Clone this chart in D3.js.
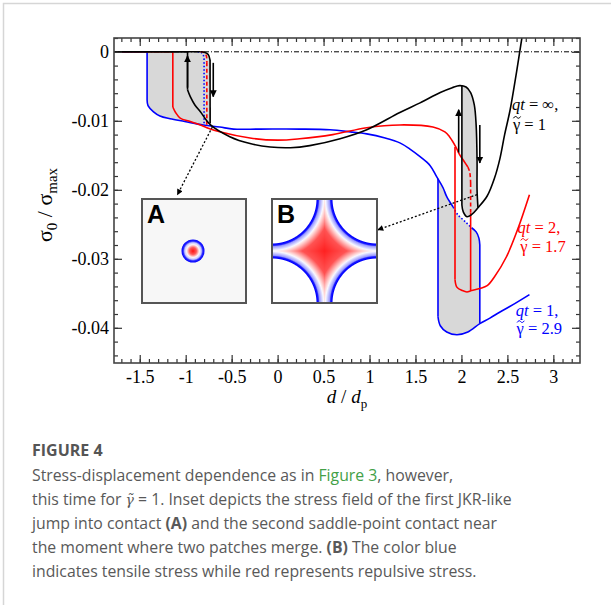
<!DOCTYPE html>
<html>
<head>
<meta charset="utf-8">
<script src="https://cdn.jsdelivr.net/npm/d3@7"></script>
<style>
  body { margin: 0; background: #fff; }
  svg { display: block; }
</style>
</head>
<body>
<svg id="fig" width="611" height="605"></svg>
<script>
// tick values + labels
var xTicks = [-1.5, -1, -0.5, 0, 0.5, 1, 1.5, 2, 2.5, 3]
var xTickLabels = ["-1.5", "-1", "-0.5", "0", "0.5", "1", "1.5", "2", "2.5", "3"]
var yTicks = [0, -0.01, -0.02, -0.03, -0.04]
var yTickLabels = ["0", "-0.01", "-0.02", "-0.03", "-0.04"]

// qt = inf, gamma = 1 (black)
var blackApproach = [[-1.78,0],[-0.98,0],[-0.98,-0.0055],[-0.95,-0.0065],[-0.90,-0.0077],[-0.84,-0.0087],[-0.73,-0.0106],[-0.52,-0.0123],[-0.30,-0.0133],[-0.08,-0.0138],[0.14,-0.0139],[0.35,-0.0136],[0.68,-0.0126],[0.97,-0.0113],[1.33,-0.0088],[1.55,-0.0074],[1.77,-0.0059],[1.90,-0.0052],[1.98,-0.0049],[2.05,-0.0051],[2.10,-0.0059],[2.14,-0.0077],[2.16,-0.0106],[2.17,-0.0157],[2.17,-0.0200],[2.18,-0.0226]]
var blackRetract = [[-1.78,0],[-0.84,0],[-0.79,-0.0001],[-0.755,-0.0004],[-0.735,-0.0012],[-0.734,-0.0104]]
var blackRise = [[2.005,-0.0222],[2.02,-0.0232],[2.06,-0.0239],[2.11,-0.0236],[2.18,-0.0226],[2.28,-0.0209],[2.36,-0.0183],[2.42,-0.0154],[2.47,-0.0120],[2.53,-0.0084],[2.60,-0.0029],[2.66,0.0022]]
var blackJump = [[2.005,-0.0049],[2.005,-0.0222]]

// qt = 2, gamma = 1.7 (red)
var redApproach = [[-1.78,0],[-1.14,0],[-1.14,-0.0080],[-1.11,-0.0088],[-1.06,-0.0096],[-0.95,-0.0101],[-0.84,-0.0106],[-0.77,-0.0110],[-0.63,-0.0116],[-0.30,-0.0125],[0,-0.0128],[0.24,-0.0126],[0.60,-0.0120],[0.97,-0.0110],[1.33,-0.0106],[1.69,-0.0109],[1.82,-0.0116],[1.87,-0.0123],[1.94,-0.0138],[1.98,-0.0149],[2.03,-0.0159],[2.07,-0.0167]]
var redDash = [[2.07,-0.0167],[2.09,-0.0174],[2.10,-0.0190],[2.10,-0.0233]]
var redDrop = [[2.10,-0.0233],[2.10,-0.0346]]
var redRise = [[1.93,-0.0138],[1.93,-0.0330],[1.95,-0.0341],[2.01,-0.0346],[2.06,-0.0348],[2.11,-0.0346],[2.20,-0.0343],[2.28,-0.0339],[2.36,-0.0326],[2.49,-0.0297],[2.61,-0.0258],[2.74,-0.0207]]
var redRetract = [[-0.84,0],[-0.80,-0.0001],[-0.775,-0.0006],[-0.77,-0.0015],[-0.77,-0.0110]]

// qt = 1, gamma = 2.9 (blue)
var blueApproach = [[-1.78,0],[-1.42,0],[-1.42,-0.0070],[-1.41,-0.0078],[-1.35,-0.0087],[-1.28,-0.0093],[-1.17,-0.0097],[-1.01,-0.0101],[-0.81,-0.0106],[-0.63,-0.0109],[-0.48,-0.0112],[-0.19,-0.0112],[0.24,-0.0112],[0.57,-0.0113],[0.79,-0.0116],[0.97,-0.0119],[1.17,-0.0125],[1.33,-0.0132],[1.44,-0.0141],[1.55,-0.0152],[1.66,-0.0165],[1.73,-0.0181],[1.80,-0.0197],[1.84,-0.0210],[1.91,-0.0225]]
var blueDot = [[1.91,-0.0225],[1.96,-0.0236],[2.04,-0.0246],[2.11,-0.0255]]
var blueDrop = [[2.11,-0.0255],[2.16,-0.0261],[2.19,-0.0270],[2.20,-0.0280],[2.20,-0.0393]]
var blueRise = [[1.745,-0.0184],[1.745,-0.0384],[1.77,-0.0397],[1.84,-0.0406],[1.95,-0.0410],[2.07,-0.0406],[2.20,-0.0394],[2.31,-0.0386],[2.42,-0.0377],[2.58,-0.0365],[2.74,-0.0352]]
var blueRetract = [[-0.87,0],[-0.83,-0.0001],[-0.805,-0.0006],[-0.80,-0.0015],[-0.80,-0.0106]]

// annotations
var pointerA = [[-0.71,-0.0109],[-1.09,-0.0207]]
var pointerB = [[2.17,-0.0207],[1.09,-0.0258]]
var jumpArrows = [[-0.98,-0.0052,-0.0006],[-0.70,-0.0016,-0.0065],[1.97,-0.0146,-0.0084],[2.20,-0.0106,-0.0161]]

var svg = d3.select('#fig')

var x = d3.scaleLinear().domain([-1.78, 3.29]).range([114, 580])
var y = d3.scaleLinear().domain([0.002, -0.0451]).range([38, 363])

var line = d3.line().x(d => x(d[0])).y(d => y(d[1])).curve(d3.curveCatmullRom.alpha(0.5))
var poly = d3.line().x(d => x(d[0])).y(d => y(d[1]))

// card border
svg.append('rect').attr('x', 3.5).attr('y', 3.5).attr('width', 640).attr('height', 640)
  .attr('fill', 'none').attr('stroke', '#d6d6d6').attr('stroke-width', 1.5)

var defs = svg.append('defs')
defs.append('clipPath').attr('id', 'plotclip').append('rect')
  .attr('x', 114).attr('y', 38).attr('width', 466).attr('height', 325)
defs.append('marker').attr('id', 'headBig').attr('viewBox', '0 0 10 10')
  .attr('refX', 9).attr('refY', 5).attr('markerWidth', 7).attr('markerHeight', 9)
  .attr('markerUnits', 'userSpaceOnUse').attr('orient', 'auto')
  .append('path').attr('d', 'M0,0 L10,5 L0,10 Z').attr('fill', '#000')
defs.append('marker').attr('id', 'headSmall').attr('viewBox', '0 0 10 10')
  .attr('refX', 9).attr('refY', 5).attr('markerWidth', 7).attr('markerHeight', 6)
  .attr('markerUnits', 'userSpaceOnUse').attr('orient', 'auto')
  .append('path').attr('d', 'M0,0 L10,5 L0,10 Z').attr('fill', '#000')
var grad = defs.append('radialGradient').attr('id', 'spotA')
;[[0, '#ff1010'], [0.3, '#ff5a5a'], [0.55, '#fff4f4'], [0.72, '#c8c8ff'], [0.85, '#2828ff'], [1, '#0000ff']]
  .forEach(s => grad.append('stop').attr('offset', s[0]).attr('stop-color', s[1]))

var plot = svg.append('g').attr('clip-path', 'url(#plotclip)')

// grey hysteresis areas
var leftFill = blueApproach.slice(1, 9).concat(blackRetract.slice(1).reverse())
var blueFill = [[1.745,-0.0184]].concat(blueApproach.filter(d => d[0] > 1.745), blueDot.slice(1), blueDrop.slice(1), blueRise.filter(d => d[0] <= 2.2).reverse())
var loopFill = [blackJump[0]].concat(blackApproach.filter(d => d[0] >= 2.05), blackRise.filter(d => d[0] <= 2.18).reverse())
;[leftFill, blueFill, loopFill].forEach(p => {
  plot.append('path').attr('d', poly(p) + 'Z').attr('fill', '#d8d8d8').attr('stroke', 'none')
})

// zero reference line
plot.append('line').attr('x1', 114).attr('x2', 580).attr('y1', y(0)).attr('y2', y(0))
  .attr('stroke', '#000').attr('stroke-width', 1).attr('stroke-dasharray', '5,2,1,2')

// smooth pieces between sharp corners (jumps)
function curve(data, color, dash, breaks) {
  var cuts = [0].concat(breaks || [], [data.length - 1])
  for (var k = 0; k < cuts.length - 1; k++) {
    var piece = data.slice(cuts[k], cuts[k + 1] + 1)
    plot.append('path').attr('d', line(piece)).attr('fill', 'none')
      .attr('stroke', color).attr('stroke-width', 1.6)
      .attr('stroke-dasharray', dash || null)
  }
}

curve(blueApproach, '#0000ff', null, [1, 2])
curve(blueDot, '#0000ff', '1.5,2')
curve(blueDrop, '#0000ff', null, [3])
curve(blueRise, '#0000ff', null, [1])
curve(blueRetract, '#0000ff', '1.5,2', [3])

curve(redApproach, '#ff0000', null, [1, 2])
curve(redDash, '#ff0000', '4,2.5', [2])
curve(redDrop, '#ff0000')
curve(redRise, '#ff0000', null, [1])
curve(redRetract, '#ff0000', '4,2.5', [3])

curve(blackApproach, '#000', null, [1, 2])
curve(blackRetract, '#000', null, [1, 4])
curve(blackRise, '#000')
curve(blackJump, '#000')

// up / down arrows at the jumps
jumpArrows.forEach(a => {
  plot.append('line').attr('x1', x(a[0])).attr('x2', x(a[0]))
    .attr('y1', y(a[1])).attr('y2', y(a[2]))
    .attr('stroke', '#000').attr('stroke-width', 1.6).attr('marker-end', 'url(#headBig)')
})

// dotted pointers to the insets
;[pointerA, pointerB].forEach(p => {
  svg.append('path').attr('d', poly(p)).attr('fill', 'none')
    .attr('stroke', '#000').attr('stroke-width', 1.3).attr('stroke-dasharray', '2,2')
    .attr('marker-end', 'url(#headSmall)')
})

// inset A
svg.append('rect').attr('x', 142).attr('y', 199).attr('width', 104).attr('height', 104)
  .attr('fill', '#f7f7f7').attr('stroke', '#555').attr('stroke-width', 2)
svg.append('circle').attr('cx', 193).attr('cy', 251).attr('r', 11.5).attr('fill', 'url(#spotA)')

// inset B : stress field where two patches merge
var bW = 105, bH = 104, bR = 45
var cv = document.createElement('canvas')
cv.width = bW; cv.height = bH
var ctx = cv.getContext('2d')
var img = ctx.createImageData(bW, bH)
var stressColor = d3.scaleLinear()
  .domain([0, 1.4, 2.6, 6.5, 8, 15, 29])
  .range(['#0000ff', '#1a1aff', '#9a9aff', '#f8f8ff', '#ffdede', '#ff5252', '#ff2020'])
  .interpolate(d3.interpolateRgb).clamp(true)
for (var j = 0; j < bH; j++) {
  for (var i = 0; i < bW; i++) {
    var px = i + 0.5, py = j + 0.5
    var dc = d3.min([[0,0],[bW,0],[0,bH],[bW,bH]], c => Math.hypot(px - c[0], py - c[1]))
    var t = dc - bR
    var c
    if (t < -1) c = d3.rgb('#fff')
    else if (t < 0) c = d3.rgb(d3.interpolateRgb('#fff', '#0000ff')(t + 1))
    else c = d3.rgb(stressColor(t))
    var k = (j * bW + i) * 4
    img.data[k] = c.r; img.data[k + 1] = c.g; img.data[k + 2] = c.b; img.data[k + 3] = 255
  }
}
ctx.putImageData(img, 0, 0)
svg.append('image').attr('x', 272).attr('y', 199).attr('width', bW).attr('height', bH)
  .attr('href', cv.toDataURL())
svg.append('rect').attr('x', 272).attr('y', 199).attr('width', bW).attr('height', bH)
  .attr('fill', 'none').attr('stroke', '#555').attr('stroke-width', 2)

svg.append('text').attr('x', 147).attr('y', 223).text('A')
  .attr('font-family', 'Liberation Sans, Arial, sans-serif').attr('font-weight', 'bold').attr('font-size', 25)
svg.append('text').attr('x', 277).attr('y', 223).text('B')
  .attr('font-family', 'Liberation Sans, Arial, sans-serif').attr('font-weight', 'bold').attr('font-size', 25)

// curve labels
var serif = 'Liberation Serif, Times New Roman, serif'
function curveLabel(qt, gam, color, pos) {
  var t1 = svg.append('text').attr('x', x(pos[0])).attr('y', y(pos[1]))
    .attr('font-family', serif).attr('font-size', 16.5).attr('fill', color)
  t1.append('tspan').attr('font-style', 'italic').text('qt')
  t1.append('tspan').text(' = ' + qt + ',')
  var gx = x(pos[2]), gy = y(pos[3])
  svg.append('text').attr('x', gx).attr('y', gy)
    .attr('font-family', serif).attr('font-size', 16.5).attr('fill', color).text('γ = ' + gam)
  // tilde over the gamma
  svg.append('path').attr('d', 'M' + (gx + 0.5) + ',' + (gy - 11.5) + ' c1.3,-2.2 2.6,-2.2 3.6,-0.9 s2.3,1.3 3.6,-0.9')
    .attr('fill', 'none').attr('stroke', color).attr('stroke-width', 1)
}
curveLabel('∞', '1', '#000', [2.55, -0.0084, 2.56, -0.0113])
curveLabel('2', '1.7', '#ff0000', [2.61, -0.0262, 2.64, -0.0290])
curveLabel('1', '2.9', '#0000ff', [2.59, -0.0383, 2.60, -0.0409])

// axes, ticks inward on all four sides
function styleAxis(g) {
  g.select('.domain').remove()
  g.selectAll('.tick line').attr('stroke', '#333').attr('stroke-width', 1.2)
  g.selectAll('.tick text').attr('font-family', serif).attr('font-size', 18).attr('fill', '#000')
}
var xMinor = d3.range(-17, 33).map(i => i / 10)
var yMinor = d3.range(1, -23, -1).map(i => i * 0.002)

svg.append('g').attr('transform', 'translate(0,363)')
  .call(d3.axisBottom(x).tickValues(xMinor).tickFormat('').tickSizeInner(-4).tickSizeOuter(0)).call(styleAxis)
svg.append('g').attr('transform', 'translate(0,363)')
  .call(d3.axisBottom(x).tickValues(xTicks).tickFormat((d, i) => xTickLabels[i]).tickSizeInner(-8).tickSizeOuter(0).tickPadding(7)).call(styleAxis)
svg.append('g').attr('transform', 'translate(0,38)')
  .call(d3.axisTop(x).tickValues(xMinor).tickFormat('').tickSizeInner(-4).tickSizeOuter(0)).call(styleAxis)
svg.append('g').attr('transform', 'translate(0,38)')
  .call(d3.axisTop(x).tickValues(xTicks).tickFormat('').tickSizeInner(-8).tickSizeOuter(0)).call(styleAxis)
svg.append('g').attr('transform', 'translate(114,0)')
  .call(d3.axisLeft(y).tickValues(yMinor).tickFormat('').tickSizeInner(-4).tickSizeOuter(0)).call(styleAxis)
svg.append('g').attr('transform', 'translate(114,0)')
  .call(d3.axisLeft(y).tickValues(yTicks).tickFormat((d, i) => yTickLabels[i]).tickSizeInner(-8).tickSizeOuter(0).tickPadding(5)).call(styleAxis)
svg.append('g').attr('transform', 'translate(580,0)')
  .call(d3.axisRight(y).tickValues(yMinor).tickFormat('').tickSizeInner(-4).tickSizeOuter(0)).call(styleAxis)
svg.append('g').attr('transform', 'translate(580,0)')
  .call(d3.axisRight(y).tickValues(yTicks).tickFormat('').tickSizeInner(-8).tickSizeOuter(0)).call(styleAxis)

svg.append('rect').attr('x', 114).attr('y', 38).attr('width', 466).attr('height', 325)
  .attr('fill', 'none').attr('stroke', '#444').attr('stroke-width', 1.6)

// axis titles
var xt = svg.append('text').attr('x', 347).attr('y', 403).attr('text-anchor', 'middle')
  .attr('font-family', serif).attr('font-size', 19)
xt.append('tspan').attr('font-style', 'italic').text('d')
xt.append('tspan').text(' / ')
xt.append('tspan').attr('font-style', 'italic').text('d')
xt.append('tspan').attr('font-size', 13).attr('dy', 5).text('p')

var yt = svg.append('text').attr('transform', 'translate(52,205) rotate(-90)').attr('text-anchor', 'middle')
  .attr('font-family', serif).attr('font-size', 22)
yt.append('tspan').text('σ')
yt.append('tspan').attr('font-size', 15).attr('dy', 5).text('0')
yt.append('tspan').attr('dy', -5).text(' / σ')
yt.append('tspan').attr('font-size', 15).attr('dy', 5).text('max')

// caption
var sans = 'Open Sans, Noto Sans, sans-serif'
svg.append('text').attr('x', 32).attr('y', 456).text('FIGURE 4')
  .attr('font-family', sans).attr('font-weight', 'bold').attr('font-size', 16).attr('fill', '#555')
var capLines = [
  [['Stress-displacement dependence as in ', 0], ['Figure 3', 2], [', however,', 0]],
  [['this time for ', 0], ['γ̃', 3], [' = 1. Inset depicts the stress field of the first JKR-like', 0]],
  [['jump into contact ', 0], ['(A)', 1], [' and the second saddle-point contact near', 0]],
  [['the moment where two patches merge. ', 0], ['(B)', 1], [' The color blue', 0]],
  [['indicates tensile stress while red represents repulsive stress.', 0]]
]
capLines.forEach((ln, k) => {
  var t = svg.append('text').attr('x', 32).attr('y', 481 + k * 24)
    .attr('font-family', sans).attr('font-size', 15.8).attr('fill', '#595959')
  ln.forEach(s => {
    var sp = t.append('tspan').text(s[0])
    if (s[1] == 1) sp.attr('font-weight', 'bold')
    if (s[1] == 2) sp.attr('fill', '#43a047')
    if (s[1] == 3) sp.attr('font-style', 'italic').attr('font-family', 'DejaVu Serif, serif').attr('font-size', 14)
  })
})
</script>
</body>
</html>
